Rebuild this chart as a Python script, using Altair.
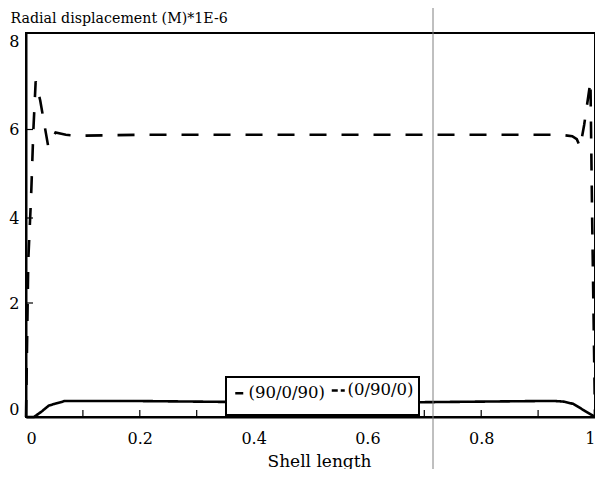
import altair as alt
import pandas as pd

# ---- data ----
series_names = ["(90/0/90)", "(0/90/0)"]

solid_x = [0, 0.014, 0.028, 0.04, 0.05, 0.068, 0.1, 0.2, 0.3, 0.4, 0.5, 0.6,
           0.7, 0.8, 0.9, 0.93, 0.945, 0.962, 0.98, 1.0]
solid_y = [0, 0, 0.1, 0.2, 0.23, 0.28, 0.28, 0.28, 0.27, 0.26, 0.26, 0.26,
           0.26, 0.27, 0.28, 0.28, 0.27, 0.23, 0.12, 0]

dash_x = [0, 0.004, 0.009, 0.013, 0.017, 0.025, 0.039, 0.052, 0.07, 0.09, 0.2,
          0.4, 0.6, 0.8, 0.94, 0.96, 0.968, 0.974, 0.981, 0.992, 0.995, 1.0]
dash_y = [0, 3.0, 4.5, 6.0, 7.0, 6.6, 5.62, 5.93, 5.88, 5.86, 5.88,
          5.88, 5.88, 5.88, 5.88, 5.85, 5.78, 5.6, 6.1, 7.0, 4.0, 0]

x_label_values = [0, 0.2, 0.4, 0.6, 0.8, 1]
y_label_values = [0, 2, 4, 6, 8]
x_minor_ticks = [0.1, 0.2, 0.3, 0.4, 0.5, 0.6, 0.7, 0.8, 0.9]
y_minor_ticks = [2, 4, 6]
scan_line_x = [0.7153]

# ---- tables ----
rows = []
for i, (a, b) in enumerate(zip(solid_x, solid_y)):
    rows.append({"x": a, "y": b, "series": series_names[0], "order": i})
for i, (a, b) in enumerate(zip(dash_x, dash_y)):
    rows.append({"x": a, "y": b, "series": series_names[1], "order": i})
df = pd.DataFrame(rows)
xt = pd.DataFrame({"x": x_minor_ticks})
yt = pd.DataFrame({"y": y_minor_ticks})
sl = pd.DataFrame({"x": scan_line_x})

W, H = 569, 384
FONT = "DejaVu Serif"

x_scale = alt.Scale(domain=[0, 1], nice=False, zero=False)
# the printed axis is not evenly spaced: follow its tick positions
y_scale = alt.Scale(domain=[0, 2, 4, 6, 8], range=[H, 270, 185, 96.5, 0], nice=False)

x_axis = alt.Axis(values=x_label_values, format="~g", title="Shell length",
                  titleX=293, titleY=49, titleAlign="center",
                  titleBaseline="alphabetic", titleFontSize=17,
                  labelPadding=13)
y_axis = alt.Axis(values=y_label_values, title="Radial displacement (M)*1E-6",
                  titleAngle=0, titleX=-16, titleY=-11, titleAlign="left",
                  titleBaseline="alphabetic", titleFontSize=14.2,
                  labelPadding=7)

X = alt.X("x:Q", scale=x_scale, axis=x_axis)
Y = alt.Y("y:Q", scale=y_scale, axis=y_axis)

lines = alt.Chart(df).mark_line(color="black", strokeWidth=2.6).encode(
    x=X, y=Y,
    strokeDash=alt.StrokeDash("series:N",
                              scale=alt.Scale(domain=series_names, range=[[1, 0], [17, 15]]),
                              legend=None),
    order="order:Q",
)

xticks = alt.Chart(xt).mark_rule(color="black", strokeWidth=1.2).encode(
    x=X, y=alt.value(H), y2=alt.value(H - 7),
)
yticks = alt.Chart(yt).mark_rule(color="black", strokeWidth=1.2).encode(
    y=Y, x=alt.value(0), x2=alt.value(7),
)
scan = alt.Chart(sl).mark_rule(color="#808080", strokeWidth=1).encode(
    x=X, y=alt.value(-25), y2=alt.value(H + 80),
)

leg = alt.Legend(orient="none", legendX=200, legendY=344, direction="horizontal",
                 title=None, fillColor="white", strokeColor="black", padding=5,
                 labelFont=FONT, labelFontSize=16.5, labelColor="black", labelOffset=1,
                 columnPadding=1, symbolType="M-1,-2.2M-1,0H1M1,2.2", symbolStrokeWidth=2.5,
                 symbolStrokeColor="black", symbolOpacity=1)

legend_layer = alt.Chart(df).mark_point(shape="stroke", opacity=0, color="black").encode(
    x=X, y=Y,
    strokeDash=alt.StrokeDash("series:N",
                              scale=alt.Scale(domain=series_names, range=[[1, 0], [6, 3]]),
                              legend=leg),
    size=alt.Size("series:O", sort=series_names,
                  scale=alt.Scale(domain=series_names, range=[64, 169]),
                  legend=leg),
)

chart = alt.layer(lines, xticks, yticks, scan, legend_layer).resolve_scale(
    strokeDash="independent", size="independent"
).properties(
    width=W, height=H,
    autosize=alt.AutoSizeParams(type="none"),
    padding={"left": 18, "top": 25, "right": 0, "bottom": 52},
    background="white",
).configure_view(
    stroke="black", strokeWidth=2
).configure_axis(
    domainColor="black", domainWidth=2, ticks=False, grid=False,
    labelFont=FONT, labelFontSize=16, labelColor="black", labelFlush=True,
    titleFont=FONT, titleColor="black", titleFontWeight="normal",
).configure_legend(
    strokeWidth=2
)

chart.save("out.html", embed_options={"renderer": "svg", "actions": False})
